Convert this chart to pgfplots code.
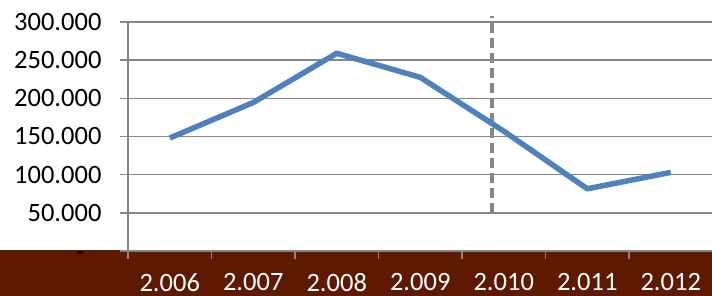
\documentclass[border=0pt]{standalone}
\usepackage{pgfplots}
\pgfplotsset{compat=1.18}
\usepackage{fontspec}
\setmainfont{Carlito}
\definecolor{band}{RGB}{94,25,2}
\definecolor{lineblue}{RGB}{79,129,189}
\definecolor{gridgray}{RGB}{134,134,134}
\begin{document}
\begin{tikzpicture}[x=1pt,y=1pt]
\useasboundingbox (0,0) rectangle (712,296);
\fill[band] (0,0) rectangle (712,46);
\begin{axis}[
  at={(128pt,45pt)}, anchor=south west,
  scale only axis, width=584.5pt, height=229pt,
  xmin=-0.5, xmax=6.5, ymin=0, ymax=300000,
  axis x line=bottom, axis y line=left,
  axis line style={-, draw=gridgray, line width=1.6pt},
  xtick={-0.5,0.5,1.5,2.5,3.5,4.5,5.5,6.5},
  x tick label as interval,
  xticklabels={2.006,2.007,2.008,2.009,2.010,2.011,2.012},
  ytick={0,50000,100000,150000,200000,250000,300000},
  yticklabels={,50.000,100.000,150.000,200.000,250.000,300.000},
  scaled y ticks=false,
  ymajorgrids,
  grid style={draw=gridgray, line width=1.6pt},
  tick align=outside, major tick length=8pt,
  tick style={draw=gridgray, line width=1.6pt},
  ticklabel style={font=\fontsize{26.5}{31}\selectfont},
  yticklabel style={xshift=-15pt, text=black},
  xticklabel style={yshift=-11pt, text=white},
  clip=false,
]
\addplot[draw=gridgray, line width=4pt, dash pattern=on 10pt off 5pt] coordinates {(3.86,50000) (3.86,308000)};
\addplot[draw=lineblue, line width=5.5pt, line join=round] coordinates {
  (0,148000) (1,194500) (2,259000) (3,227500) (4,157000) (5,81500) (6,103000)};
\node[font=\fontsize{26.5}{31}\selectfont, text=black, inner sep=0pt] at (axis cs:-0.5,0) [xshift=-47.5pt, yshift=-5pt] {-};
\end{axis}
\end{tikzpicture}
\end{document}
